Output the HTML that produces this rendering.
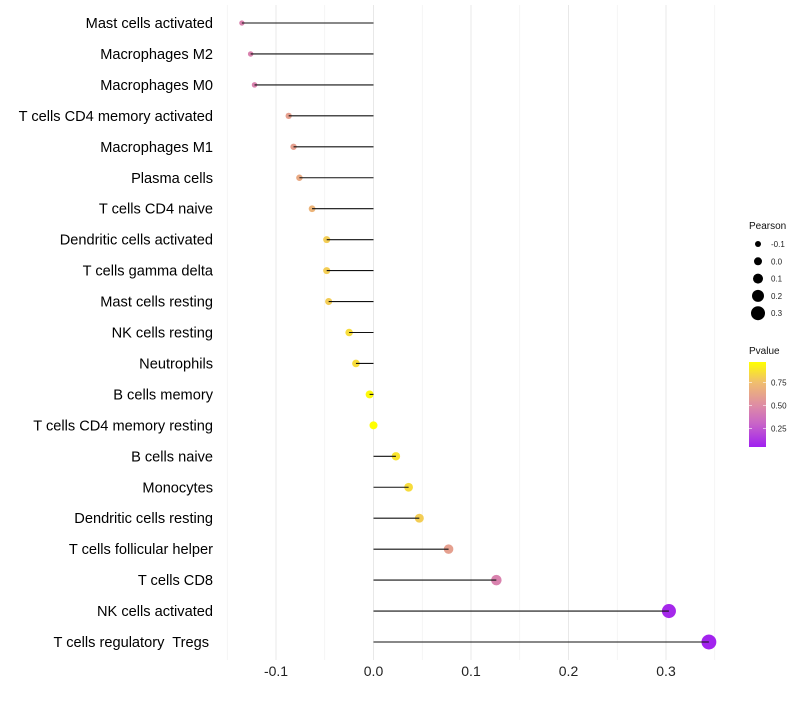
<!DOCTYPE html>
<html><head><meta charset="utf-8"><style>
body{margin:0;background:#fff}
svg text{font-family:"Liberation Sans",sans-serif}
</style></head><body>
<svg id="chart" width="800" height="700" xmlns="http://www.w3.org/2000/svg">
<g id="grid"></g>
<g id="ylabels"></g>
<g id="xlabels"></g>
<g id="marks"></g>
<g id="legend"></g>
</svg>
<script>
const categories=["Mast cells activated","Macrophages M2","Macrophages M0","T cells CD4 memory activated","Macrophages M1","Plasma cells","T cells CD4 naive","Dendritic cells activated","T cells gamma delta","Mast cells resting","NK cells resting","Neutrophils","B cells memory","T cells CD4 memory resting","B cells naive","Monocytes","Dendritic cells resting","T cells follicular helper","T cells CD8","NK cells activated","T cells regulatory\u00a0 Tregs"];
const pearson=[-0.135,-0.126,-0.122,-0.087,-0.082,-0.076,-0.063,-0.048,-0.048,-0.046,-0.025,-0.018,-0.004,0.0,0.023,0.036,0.047,0.077,0.126,0.303,0.344];
const pvalue=[0.45,0.45,0.45,0.6,0.6,0.65,0.7,0.8,0.8,0.8,0.85,0.85,0.95,0.97,0.88,0.85,0.8,0.6,0.45,0.08,0.06];
const xTicks=[-0.1,0.0,0.1,0.2,0.3];
const xTickLabels=["-0.1","0.0","0.1","0.2","0.3"];
const sizeLegend=[-0.1,0.0,0.1,0.2,0.3];
const colorTicks=[0.25,0.5,0.75];
const NS="http://www.w3.org/2000/svg";
const x=v=>373.5+v*975;
const y=i=>23+i*30.95;
const r=v=>4+10*v;
const stops=[[0.05,[160,32,240]],[0.3,[200,100,200]],[0.5,[222,140,165]],[0.75,[240,190,110]],[0.97,[255,255,0]]];
function col(p){if(p<=stops[0][0])return `rgb(${stops[0][1]})`;for(let k=1;k<stops.length;k++){if(p<=stops[k][0]){const a=stops[k-1],b=stops[k],t=(p-a[0])/(b[0]-a[0]);return `rgb(${a[1].map((c,j)=>Math.round(c+(b[1][j]-c)*t))})`;}}return `rgb(${stops[stops.length-1][1]})`;}
function mk(tag,at,parent){const e=document.createElementNS(NS,tag);for(const k in at)e.setAttribute(k,at[k]);document.getElementById(parent).appendChild(e);return e;}
for(let v=-0.15;v<=0.351;v+=0.05){const major=Math.abs(Math.round(v*100))%10===0;const l=mk("line",{x1:x(v),x2:x(v),y1:5,y2:660,stroke:major?"#e8e8e8":"#f0f0f0","stroke-width":major?1:0.7},"grid");

}
xTicks.forEach((v,i)=>{const t=mk("text",{x:x(v),y:676,"text-anchor":"middle","font-size":14,fill:"#222"},"xlabels");t.textContent=xTickLabels[i];

});
categories.forEach((c,i)=>{const t=mk("text",{x:i===20?209:213,y:y(i)+5,"text-anchor":"end","font-size":14.6,fill:"#000"},"ylabels");t.textContent=c;


const pt=mk("circle",{cx:x(pearson[i]),cy:y(i),r:r(pearson[i]),fill:col(pvalue[i])},"marks");


const ln=mk("line",{x1:x(0),x2:x(pearson[i]),y1:y(i),y2:y(i),stroke:"#111","stroke-width":1.1},"marks");

});
let t=mk("text",{x:749,y:229,"font-size":10,fill:"#111"},"legend");t.textContent="Pearson";

sizeLegend.forEach((v,i)=>{const cy=244+i*17.3;const c=mk("circle",{cx:758,cy:cy,r:r(v),fill:"#000"},"legend");

const tt=mk("text",{x:771,y:cy+3,"font-size":8,fill:"#222"},"legend");tt.textContent=sizeLegend[i].toFixed(1);
});
t=mk("text",{x:749,y:354,"font-size":10,fill:"#111"},"legend");t.textContent="Pvalue";

const defs=mk("defs",{},"legend");const g=document.createElementNS(NS,"linearGradient");g.setAttribute("id","cg");g.setAttribute("x1","0");g.setAttribute("y1","1");g.setAttribute("x2","0");g.setAttribute("y2","0");defs.appendChild(g);
stops.forEach(s=>{const st=document.createElementNS(NS,"stop");st.setAttribute("offset",(s[0]-0.05)/0.92);st.setAttribute("stop-color",col(s[0]));g.appendChild(st);});
const bar=mk("rect",{x:749,y:362,width:17,height:85,fill:"url(#cg)"},"legend");

const cy=p=>447-(p-0.05)/0.92*85;
colorTicks.forEach(p=>{const tt=mk("text",{x:771,y:cy(p)+3,"font-size":8,fill:"#222"},"legend");tt.textContent=p.toFixed(2);

mk("line",{x1:749,x2:752,y1:cy(p),y2:cy(p),stroke:"#fff","stroke-width":0.6},"legend");
mk("line",{x1:763,x2:766,y1:cy(p),y2:cy(p),stroke:"#fff","stroke-width":0.6},"legend");});
</script>
</body></html>
